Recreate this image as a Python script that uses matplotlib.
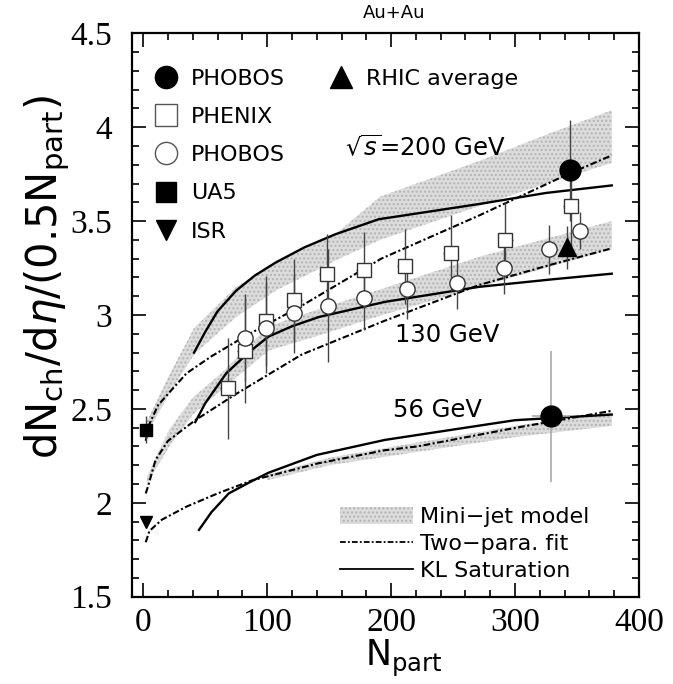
import matplotlib
matplotlib.use("Agg")
import matplotlib.pyplot as plt
from matplotlib.lines import Line2D
from matplotlib.patches import Patch

plt.rcParams["font.family"] = ["DejaVu Sans"]
plt.rcParams["mathtext.fontset"] = "dejavusans"
plt.rcParams["hatch.linewidth"] = 1.0

# --- data ---
# PHENIX 200 GeV (open squares)
phenix_x = [68, 82, 99, 122, 148, 178, 211, 248, 292, 345]
phenix_y = [2.61, 2.81, 2.97, 3.08, 3.22, 3.24, 3.26, 3.33, 3.40, 3.58]
phenix_err = [0.27, 0.28, 0.24, 0.22, 0.21, 0.20, 0.20, 0.20, 0.20, 0.21]

# PHOBOS 130 GeV (open circles)
phobos_x = [82, 99, 122, 149, 178, 213, 253, 291, 327, 352]
phobos_y = [2.88, 2.93, 3.01, 3.05, 3.09, 3.14, 3.17, 3.25, 3.35, 3.45]
phobos_err = [0.23, 0.24, 0.21, 0.30, 0.17, 0.16, 0.14, 0.14, 0.13, 0.10]

# PHOBOS filled circles (200 GeV, 56 GeV)
phobos_full_x = [344, 329]
phobos_full_y = [3.77, 2.46]
phobos_full_err = [0.27, 0.35]

# RHIC average, UA5, ISR
rhic_x, rhic_y, rhic_err = [342], [3.36], [0.115]
ua5_x, ua5_y, ua5_err = [2], [2.39], [0.07]
isr_x, isr_y = [2], [1.90]

# two-parameter fits
fit200_x = [2, 5, 12, 20, 35, 55, 83, 128, 192, 271, 341, 378]
fit200_y = [2.33, 2.42, 2.52, 2.58, 2.69, 2.78, 2.89, 3.05, 3.30, 3.53, 3.745, 3.85]
fit130_x = [2, 4, 10, 20, 42, 75, 128, 195, 271, 330, 378]
fit130_y = [2.05, 2.09, 2.23, 2.33, 2.44, 2.58, 2.79, 2.97, 3.16, 3.27, 3.355]
fit56_x = [2, 5, 15, 35, 60, 88, 141, 195, 221, 301, 378]
fit56_y = [1.79, 1.85, 1.91, 1.98, 2.05, 2.12, 2.21, 2.28, 2.30, 2.40, 2.49]

# KL saturation
kl200_x = [41, 50, 60, 75, 90, 107, 130, 155, 190, 230, 270, 325, 378]
kl200_y = [2.80, 2.91, 3.02, 3.13, 3.21, 3.28, 3.36, 3.43, 3.51, 3.55, 3.59, 3.65, 3.69]
kl130_x = [42, 50, 67, 85, 101, 120, 142, 195, 271, 330, 378]
kl130_y = [2.43, 2.53, 2.69, 2.80, 2.885, 2.94, 2.99, 3.07, 3.15, 3.19, 3.22]
kl56_x = [45, 55, 69, 86, 101, 140, 195, 220, 300, 378]
kl56_y = [1.856, 1.95, 2.05, 2.11, 2.16, 2.255, 2.335, 2.36, 2.44, 2.47]

# mini-jet model bands
mj200_x = [2, 10, 21, 41, 75, 107, 155, 191, 271, 325, 378]
mj200_lo = [2.36, 2.45, 2.58, 2.79, 2.99, 3.13, 3.29, 3.40, 3.58, 3.70, 3.81]
mj200_hi = [2.42, 2.53, 2.68, 2.93, 3.15, 3.28, 3.43, 3.63, 3.82, 3.96, 4.09]
mj130_x = [3, 21, 40, 63, 101, 141, 193, 271, 378]
mj130_lo = [2.10, 2.30, 2.47, 2.60, 2.81, 2.89, 3.00, 3.15, 3.35]
mj130_hi = [2.14, 2.39, 2.56, 2.69, 2.94, 3.03, 3.14, 3.31, 3.50]
mj56_x = [100, 150, 220, 300, 378]
mj56_lo = [2.12, 2.20, 2.27, 2.35, 2.41]
mj56_hi = [2.15, 2.24, 2.32, 2.41, 2.48]

band_kw = dict(facecolor="#dcdcdc", edgecolor="#b4b4b4", hatch="....", linewidth=0, zorder=1)
fit_ls = (0, (3.2, 1.2, 1.0, 1.2))
fit_kw = dict(color="black", lw=1.5, ls=fit_ls, zorder=3)
kl_kw = dict(color="black", lw=1.7, zorder=3)

fig = plt.figure(figsize=(6.73, 6.84), dpi=100)
ax = fig.add_axes([0.1957, 0.1276, 0.7538, 0.8237])

for bx, lo, hi in [(mj200_x, mj200_lo, mj200_hi), (mj130_x, mj130_lo, mj130_hi), (mj56_x, mj56_lo, mj56_hi)]:
    ax.fill_between(bx, lo, hi, **band_kw)

for fx, fy in [(fit200_x, fit200_y), (fit130_x, fit130_y), (fit56_x, fit56_y)]:
    ax.plot(fx, fy, **fit_kw)
for kx, ky in [(kl200_x, kl200_y), (kl130_x, kl130_y), (kl56_x, kl56_y)]:
    ax.plot(kx, ky, **kl_kw)

eb = dict(ecolor="#444444", elinewidth=1.0, capsize=0, zorder=4)
ax.errorbar(phenix_x, phenix_y, yerr=phenix_err, xerr=6, fmt="s", ms=10, mfc="white",
            mec="#333333", mew=1.0, **eb)
ax.errorbar(phobos_x, phobos_y, yerr=phobos_err, fmt="o", ms=11, mfc="white",
            mec="#333333", mew=1.0, **eb)
ax.errorbar(phobos_full_x[:1], phobos_full_y[:1], yerr=phobos_full_err[:1], fmt="o", ms=15,
            color="black", **eb)
ax.errorbar(phobos_full_x[1:], phobos_full_y[1:], yerr=phobos_full_err[1:], xerr=15, fmt="o",
            ms=15, color="black", ecolor="#aaaaaa", elinewidth=1.2, capsize=0, zorder=4)
ax.errorbar(rhic_x, rhic_y, yerr=rhic_err, fmt="^", ms=13, color="black", **eb)
ax.errorbar(ua5_x, ua5_y, yerr=ua5_err, fmt="s", ms=9, color="black", **eb)
ax.plot(isr_x, isr_y, "v", ms=8, color="black", zorder=4)

ax.set_xlim(-9.3, 400)
ax.set_ylim(1.5, 4.5)
ax.set_xticks([0, 100, 200, 300, 400])
ax.set_xticks(range(0, 401, 20), minor=True)
ax.set_yticks([1.5, 2, 2.5, 3, 3.5, 4, 4.5])
ax.set_yticklabels(["1.5", "2", "2.5", "3", "3.5", "4", "4.5"])
ax.set_yticks([1.5 + 0.1 * i for i in range(31)], minor=True)
ax.tick_params(which="both", direction="in", top=True, right=True, width=1.2)
ax.tick_params(which="major", length=10)
ax.tick_params(which="minor", length=5)
ax.tick_params(axis="x", which="major", pad=8)
ax.tick_params(axis="y", which="major", pad=14)
for lab in ax.get_xticklabels() + ax.get_yticklabels():
    lab.set_fontfamily("Liberation Serif")
    lab.set_fontsize(24)
for s in ax.spines.values():
    s.set_linewidth(1.6)

ax.set_ylabel(r"dN$_{\rm ch}$/d$\eta$/(0.5N$_{\rm part}$)", fontsize=30)
ax.yaxis.set_label_coords(-0.118, 0.567)
ax.set_xlabel(r"N$_{\rm part}$", fontsize=25)
ax.xaxis.label.set_va("center")
ax.xaxis.set_label_coords(0.536, -0.11)

fig.text(394 / 673, 1 - 13 / 684, "Au+Au", ha="center", va="center", fontsize=13)

ax.text(0.42, 0.796, r"$\sqrt{s}$=200 GeV", transform=ax.transAxes, fontsize=17.5, va="center")
ax.text(0.519, 0.4645, "130 GeV", transform=ax.transAxes, fontsize=17.5, va="center")
ax.text(0.515, 0.331, "56 GeV", transform=ax.transAxes, fontsize=17.5, va="center")

h_data = [
    Line2D([], [], ls="none", marker="o", ms=16, color="black"),
    Line2D([], [], ls="none", marker="s", ms=16, mfc="white", mec="#555555", mew=1.0),
    Line2D([], [], ls="none", marker="o", ms=16, mfc="white", mec="#555555", mew=1.0),
    Line2D([], [], ls="none", marker="s", ms=15, color="black"),
    Line2D([], [], ls="none", marker="v", ms=14, color="black"),
]
leg1 = ax.legend(h_data, ["PHOBOS", "PHENIX", "PHOBOS", "UA5", "ISR"], loc="upper left",
                 bbox_to_anchor=(0.045, 0.937), frameon=False, fontsize=16, handlelength=1.05,
                 handletextpad=0.6, labelspacing=0.82, borderpad=0, borderaxespad=0)
ax.add_artist(leg1)
leg2 = ax.legend([Line2D([], [], ls="none", marker="^", ms=16, color="black")], ["RHIC average"],
                 loc="upper left", bbox_to_anchor=(0.39, 0.937), frameon=False, fontsize=16,
                 handlelength=1.05, handletextpad=0.6, borderpad=0, borderaxespad=0)
ax.add_artist(leg2)

h_model = [
    Patch(**{k: v for k, v in band_kw.items() if k != "zorder"}),
    Line2D([], [], color="black", lw=1.3, ls=fit_ls),
    Line2D([], [], color="black", lw=1.3),
]
ax.legend(h_model, ["Mini\u2212jet model", "Two\u2212para. fit", "KL Saturation"],
          loc="lower left", bbox_to_anchor=(0.41, 0.028), frameon=False, fontsize=16,
          handlelength=3.3, handleheight=0.8, handletextpad=0.3, labelspacing=0.3,
          borderpad=0, borderaxespad=0)

fig.savefig("out.png", dpi=100)
